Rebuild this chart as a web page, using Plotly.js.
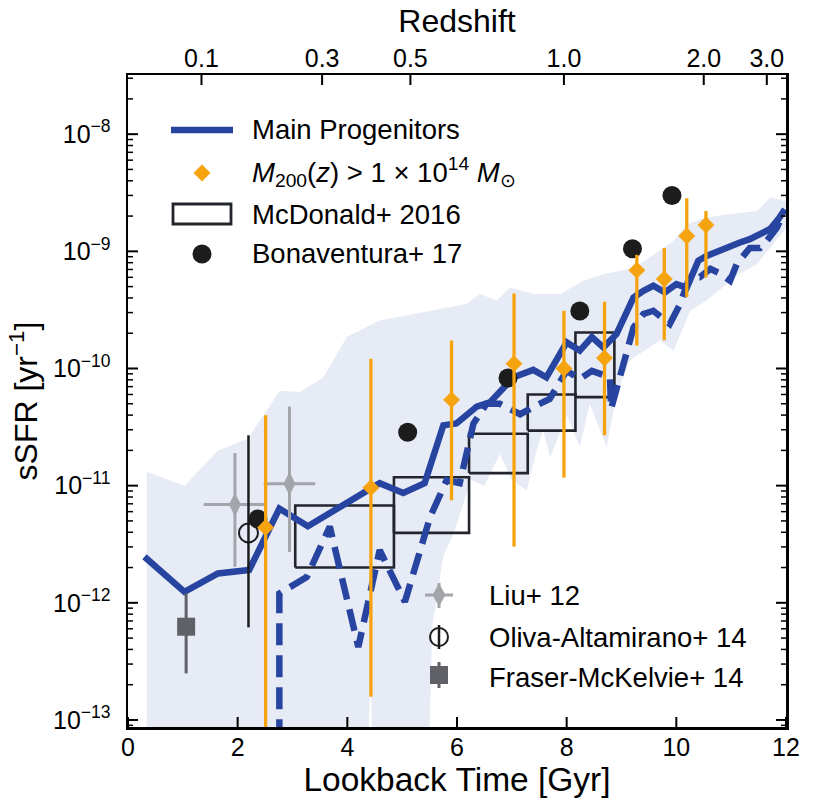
<!DOCTYPE html>
<html><head><meta charset="utf-8">
<script src="https://cdn.plot.ly/plotly-3.0.1.min.js"></script>
<style>html,body{margin:0;padding:0;background:#fff}#chart{width:814px;height:811px}</style>
</head><body><div id="chart"></div>
<script>
// ---- Main progenitors (solid) ----
const mpX = [0.30, 1.03, 1.64, 2.21, 2.76, 3.28, 4.59, 5.02, 5.41, 5.75, 5.99, 6.36, 6.60, 7.03, 7.39, 7.63, 8.00, 8.24, 8.46, 8.67, 8.91, 9.22, 9.40, 9.58, 9.79, 10.00, 10.19, 10.40, 10.55, 10.77, 10.98, 11.16, 11.34, 11.53, 11.71, 11.86, 11.98];
const mpY = [2.47e-12, 1.24e-12, 1.78e-12, 1.91e-12, 6.37e-12, 4.5e-12, 1.05e-11, 8.65e-12, 1.05e-11, 3.27e-11, 3.39e-11, 4.73e-11, 5.13e-11, 8.41e-11, 9.73e-11, 8.41e-11, 1.67e-10, 1.42e-10, 1.85e-10, 1.51e-10, 1.97e-10, 4.04e-10, 4.61e-10, 5.08e-10, 4.47e-10, 5.25e-10, 4.9e-10, 8.32e-10, 9.12e-10, 1.01e-9, 1.11e-9, 1.19e-9, 1.27e-9, 1.40e-9, 1.55e-9, 1.88e-9, 2.29e-9];

// ---- Dashed series ----
const dX = [2.76, 2.76, 3.26, 3.68, 4.20, 4.59, 5.05, 5.51, 5.81, 6.05, 6.30, 6.54, 6.78, 7.15, 7.39, 7.69, 8.00, 8.24, 8.46, 8.79, 8.81, 9.22, 9.40, 9.58, 9.88, 10.07, 10.25, 10.43, 10.62, 10.80, 10.98, 11.10, 11.34, 11.53, 11.65, 11.83, 11.98];
const dY = [1e-14, 1.2e-12, 1.66e-12, 4.47e-12, 4.2e-13, 2.82e-12, 1.02e-12, 5.4e-12, 1.11e-11, 1.05e-11, 3.39e-11, 5.0e-11, 5.0e-11, 4.07e-11, 4.68e-11, 5.5e-11, 9.55e-11, 8.13e-11, 9.55e-11, 8.41e-11, 4.53e-11, 2.24e-10, 2.92e-10, 3.11e-10, 2.4e-10, 3.55e-10, 6.17e-10, 6.03e-10, 7.08e-10, 6.46e-10, 5.62e-10, 7.76e-10, 1.07e-9, 1.07e-9, 1.23e-9, 1.58e-9, 2.21e-9];

// ---- Scatter band ----
const bandUpX = [0.34, 1.03, 1.64, 2.18, 2.77, 3.13, 3.56, 3.99, 4.59, 5.5, 6.17, 6.42, 6.72, 6.97, 7.39, 7.88, 8.30, 8.67, 9.22, 9.52, 9.95, 10.19, 10.55, 11.04, 11.47, 11.71, 12.0];
const bandUpY = [1.32e-11, 1.0e-11, 2.0e-11, 2.51e-11, 6.46e-11, 6.31e-11, 8.32e-11, 1.86e-10, 2.57e-10, 3.09e-10, 3.55e-10, 4.32e-10, 3.8e-10, 4.9e-10, 4.32e-10, 4.32e-10, 5.62e-10, 6.38e-10, 7.24e-10, 8.91e-10, 1.23e-9, 1.7e-9, 1.95e-9, 2.09e-9, 2.21e-9, 2.88e-9, 2.69e-9];
const bandLoX = [0.34, 4.35, 4.42, 4.5, 5.45, 5.55, 5.75, 5.95, 6.25, 6.5, 6.78, 7.0, 7.27, 7.45, 7.57, 7.70, 8.0, 8.24, 8.42, 8.73, 8.91, 9.15, 9.4, 9.7, 9.95, 10.25, 10.55, 10.86, 11.16, 11.47, 11.77, 12.0];
const bandLoY = [1e-14, 1e-14, 2.8e-13, 1e-14, 1e-14, 6.3e-13, 2.5e-12, 4.0e-12, 1.12e-11, 1.0e-11, 1.86e-11, 1.12e-11, 9.1e-12, 2.0e-11, 2.95e-11, 1.74e-11, 3.98e-11, 2.14e-11, 5.0e-11, 2.14e-11, 6.03e-11, 1.17e-10, 1.41e-10, 1.74e-10, 1.41e-10, 3.09e-10, 3.8e-10, 5.0e-10, 6.46e-10, 7.76e-10, 1.15e-9, 1.58e-9];

// ---- M200(z) > 1e14 clusters ----
const oX = [2.51, 4.43, 5.90, 7.04, 7.95, 8.69, 9.28, 9.78, 10.19, 10.54];
const oY = [4.4e-12, 9.6e-12, 5.4e-11, 1.1e-10, 1.0e-10, 1.23e-10, 6.9e-10, 5.8e-10, 1.35e-9, 1.68e-9];
const oHi = [3.98e-11, 1.21e-10, 1.73e-10, 4.37e-10, 3.11e-10, 3.72e-10, 9.33e-10, 1.07e-9, 2.84e-9, 2.21e-9];
const oLo = [1e-14, 1.58e-13, 7.5e-12, 3.02e-12, 1.17e-11, 2.69e-11, 1.57e-10, 1.74e-10, 4.07e-10, 5.98e-10];

// ---- McDonald+ 2016 ----
const mcEdges = [3.05, 4.85, 6.22, 7.29, 8.16, 8.87];
const mcLo = [2.0e-12, 3.95e-12, 1.28e-11, 2.95e-11, 5.7e-11];
const mcHi = [6.76e-12, 1.18e-11, 2.77e-11, 6.0e-11, 2.03e-10];

// ---- Bonaventura+ 17 ----
const bX = [2.37, 5.10, 6.93, 8.24, 9.20, 9.92];
const bY = [5.2e-12, 2.86e-11, 8.3e-11, 3.1e-10, 1.05e-9, 3.0e-9];

// ---- Liu+ 12 ----
const lX = [1.95, 2.945];
const lY = [6.9e-12, 1.04e-11];
const lXerr = [0.57, 0.47];
const lHi = [1.9e-11, 4.73e-11];
const lLo = [2.03e-12, 2.72e-12];

// ---- Oliva-Altamirano+ 14 ----
const oaX = [2.197];
const oaY = [3.95e-12];
const oaHi = [2.69e-11];
const oaLo = [6.17e-13];

// ---- Fraser-McKelvie+ 14 ----
const fmX = [1.06];
const fmY = [6.25e-13];
const fmHi = [1.2e-12];
const fmLo = [2.5e-13];

// ---- axis ticks ----
const zTickPos = [1.34, 3.54, 5.15, 7.95, 10.5, 11.65];
const zTickText = ['0.1', '0.3', '0.5', '1.0', '2.0', '3.0'];
const xTicks = [0, 2, 4, 6, 8, 10, 12];
const yTicks = [1e-13, 1e-12, 1e-11, 1e-10, 1e-9, 1e-8];
const yTickText = ['10<sup>−13</sup>', '10<sup>−12</sup>', '10<sup>−11</sup>', '10<sup>−10</sup>', '10<sup>−9</sup>', '10<sup>−8</sup>'];

// legend labels
const legendMain = ['Main Progenitors', '<i>M</i><sub>200</sub>(<i>z</i>) &gt; 1 × 10<sup>14</sup> <i>M</i><sub>⊙</sub>', 'McDonald+ 2016', 'Bonaventura+ 17'];
const legendObs = ['Liu+ 12', 'Oliva-Altamirano+ 14', 'Fraser-McKelvie+ 14'];

const plus = (v, hi) => hi.map((h, i) => h - v[i]);
const minus = (v, lo) => lo.map((l, i) => v[i] - l);

const blue = '#2745a0';
const orange = '#f5a30f';
const black = '#1c1c1c';
const lgray = '#a3a5aa';
const dgray = '#5f6166';
const FONT = 'Liberation Sans, Arial, Helvetica, sans-serif';
const X_RANGE = [0, 12];
const Y_RANGE = [-13.06, -7.495];

const boxX = [], boxY = [];
for (let i = 0; i < mcLo.length; i++) {
  boxX.push(mcEdges[i], mcEdges[i+1], mcEdges[i+1], mcEdges[i], mcEdges[i], null);
  boxY.push(mcLo[i], mcLo[i], mcHi[i], mcHi[i], mcLo[i], null);
}

const yMinor = [];
for (let e = -14; e <= -8; e++) for (let m = 2; m <= 9; m++) {
  const v = m * Math.pow(10, e);
  const lv = Math.log10(v);
  if (lv > Y_RANGE[0] && lv < Y_RANGE[1]) yMinor.push(v);
}

const traces = [
  { x: bandUpX.concat(bandLoX.slice().reverse()), y: bandUpY.concat(bandLoY.slice().reverse()),
    type: 'scatter', mode: 'lines', fill: 'toself', fillcolor: 'rgba(40,70,160,0.11)',
    line: {width: 0}, showlegend: false, hoverinfo: 'skip', xaxis: 'x', yaxis: 'y' },
  { x: boxX, y: boxY, type: 'scatter', mode: 'lines', name: legendMain[2],
    line: {color: '#22252b', width: 2.6}, xaxis: 'x2', yaxis: 'y2' },
  { x: dX, y: dY, type: 'scatter', mode: 'lines', name: 'dashed',
    line: {color: blue, width: 6.5, dash: '22px,10px'}, xaxis: 'x2', yaxis: 'y2' },
  { x: mpX, y: mpY, type: 'scatter', mode: 'lines', name: legendMain[0],
    line: {color: blue, width: 6.5}, xaxis: 'x2', yaxis: 'y2' },
  { x: fmX, y: fmY, type: 'scatter', mode: 'markers', name: legendObs[2],
    marker: {symbol: 'square', size: 18, color: dgray},
    error_y: {type: 'data', symmetric: false, array: plus(fmY, fmHi), arrayminus: minus(fmY, fmLo), color: dgray, thickness: 3, width: 0},
    xaxis: 'x2', yaxis: 'y2' },
  { x: lX, y: lY, type: 'scatter', mode: 'markers', name: legendObs[0],
    marker: {symbol: 'diamond-tall', size: 17, color: lgray},
    error_y: {type: 'data', symmetric: false, array: plus(lY, lHi), arrayminus: minus(lY, lLo), color: lgray, thickness: 3, width: 0},
    error_x: {type: 'data', array: lXerr, color: lgray, thickness: 3, width: 0},
    xaxis: 'x2', yaxis: 'y2' },
  { x: oaX, y: oaY, type: 'scatter', mode: 'markers', name: legendObs[1],
    marker: {symbol: 'circle-open', size: 19, color: black, line: {width: 2}},
    error_y: {type: 'data', symmetric: false, array: plus(oaY, oaHi), arrayminus: minus(oaY, oaLo), color: black, thickness: 2.5, width: 0},
    xaxis: 'x2', yaxis: 'y2' },
  { x: bX, y: bY, type: 'scatter', mode: 'markers', name: legendMain[3],
    marker: {symbol: 'circle', size: 19, color: black}, xaxis: 'x2', yaxis: 'y2' },
  { x: oX, y: oY, type: 'scatter', mode: 'markers', name: legendMain[1],
    marker: {symbol: 'diamond', size: 13, color: orange},
    error_y: {type: 'data', symmetric: false, array: plus(oY, oHi), arrayminus: minus(oY, oLo), color: orange, thickness: 3.3, width: 0},
    xaxis: 'x2', yaxis: 'y2' }
];

// ---- pixel -> paper helpers for the plot area 128..786 x 75..727 ----
const PW = 658, PH = 652;
const PX = p => (p - 128) / PW;
const PY = p => (727 - p) / PH;
// axis value -> paper fraction (same linear / log scale as the axes)
const XF = v => (v - X_RANGE[0]) / (X_RANGE[1] - X_RANGE[0]);
const YF = v => (Math.log10(v) - Y_RANGE[0]) / (Y_RANGE[1] - Y_RANGE[0]);
const shapes = [];
const annotations = [];

// ---- tick marks (drawn inward, matplotlib style) ----
function tickX(v, bottom, len) {
  const f = XF(v);
  shapes.push({type: 'line', xref: 'paper', yref: 'paper', x0: f, x1: f,
    y0: bottom ? 0 : 1, y1: bottom ? len / PH : 1 - len / PH, line: {color: '#000', width: 2}, layer: 'above'});
}
function tickY(v, left, len, w) {
  const f = YF(v);
  shapes.push({type: 'line', xref: 'paper', yref: 'paper', y0: f, y1: f,
    x0: left ? 0 : 1, x1: left ? len / PW : 1 - len / PW, line: {color: '#000', width: w}, layer: 'above'});
}
xTicks.forEach(v => tickX(v, true, 10));
zTickPos.forEach(v => tickX(v, false, 10));
yTicks.forEach(v => { tickY(v, true, 10, 2); tickY(v, false, 10, 2); });
yMinor.forEach(v => { tickY(v, true, 5, 1.5); tickY(v, false, 5, 1.5); });

// ---- hand-built legends ----
function txt(t, x, y) {
  annotations.push({text: t, xref: 'paper', yref: 'paper', x: PX(x), y: PY(y), xanchor: 'left', yanchor: 'middle',
    showarrow: false, font: {size: 27.5, color: '#000', family: FONT}});
}
function seg(x0, y0, x1, y1, color, w) {
  shapes.push({type: 'line', xref: 'paper', yref: 'paper', x0: PX(x0), y0: PY(y0), x1: PX(x1), y1: PY(y1), line: {color: color, width: w}, layer: 'above'});
}
function diamond(cx, cy, hw, hh, color) {
  shapes.push({type: 'path', xref: 'paper', yref: 'paper', layer: 'above',
    path: `M${PX(cx)},${PY(cy - hh)} L${PX(cx + hw)},${PY(cy)} L${PX(cx)},${PY(cy + hh)} L${PX(cx - hw)},${PY(cy)} Z`,
    fillcolor: color, line: {width: 0}});
}
function circ(cx, cy, r, fill, lineColor, lw) {
  shapes.push({type: 'circle', xref: 'paper', yref: 'paper', layer: 'above', x0: PX(cx - r), x1: PX(cx + r), y0: PY(cy + r), y1: PY(cy - r),
    fillcolor: fill, line: {color: lineColor, width: lw}});
}
function rect(x0, y0, x1, y1, fill, lineColor, lw) {
  shapes.push({type: 'rect', xref: 'paper', yref: 'paper', layer: 'above', x0: PX(x0), x1: PX(x1), y0: PY(y1), y1: PY(y0),
    fillcolor: fill, line: {color: lineColor, width: lw}});
}
// upper legend
seg(171, 130, 233, 130, blue, 6.5);               txt(legendMain[0], 250, 130);
diamond(202, 173, 8.5, 8.5, orange);              txt(legendMain[1], 250, 172);
rect(173, 204, 231, 224, '#fff', '#22252b', 2.8); txt(legendMain[2], 250, 214);
circ(202, 254, 9.5, black, black, 0);             txt(legendMain[3], 250, 253);
// lower legend
seg(425, 595, 453, 595, lgray, 3); seg(439, 583, 439, 608, lgray, 3); diamond(439, 595, 6.5, 11.5, lgray);
txt(legendObs[0], 487, 595);
seg(439, 625, 439, 649, black, 2.5); circ(439, 637, 9, 'rgba(0,0,0,0)', black, 2);
txt(legendObs[1], 487, 637);
seg(439, 662, 439, 688, dgray, 3); rect(430, 666, 448, 684, dgray, dgray, 0);
txt(legendObs[2], 487, 677);

const layout = {
  width: 814, height: 811,
  margin: {l: 128, r: 28, t: 75, b: 84},
  paper_bgcolor: '#fff', plot_bgcolor: '#fff',
  font: {family: FONT, size: 25, color: '#000'},
  showlegend: false,
  xaxis: {
    range: X_RANGE, tickmode: 'array', tickvals: xTicks, ticks: '',
    showline: true, linewidth: 2.5, linecolor: '#000', showgrid: false, zeroline: false,
    tickfont: {size: 25}, ticklabelstandoff: -4,
    title: {text: 'Lookback Time [Gyr]', font: {size: 33.5}, standoff: 8}
  },
  xaxis2: {
    range: X_RANGE, overlaying: 'x', side: 'top', anchor: 'y2',
    tickmode: 'array', tickvals: zTickPos, ticktext: zTickText, ticks: '',
    showline: true, linewidth: 2.5, linecolor: '#000',
    showgrid: false, zeroline: false, tickfont: {size: 25}, ticklabelstandoff: -4,
    title: {text: 'Redshift', font: {size: 32}, standoff: 2}
  },
  yaxis: {
    type: 'log', range: Y_RANGE, tickmode: 'array', tickvals: yTicks, ticktext: yTickText, ticks: '',
    showline: true, linewidth: 2.5, linecolor: '#000', mirror: true,
    showgrid: false, zeroline: false, tickfont: {size: 25}, ticklabelstandoff: 10,
    title: {text: 'sSFR [yr<sup>−1</sup>]', font: {size: 32}, standoff: 6}
  },
  yaxis2: {
    type: 'log', range: Y_RANGE, overlaying: 'y', anchor: 'x2', side: 'left',
    ticks: '', showticklabels: false, showline: false, showgrid: false, zeroline: false
  },
  shapes: shapes,
  annotations: annotations
};

Plotly.newPlot('chart', traces, layout, {staticPlot: true, displayModeBar: false});
</script></body></html>
